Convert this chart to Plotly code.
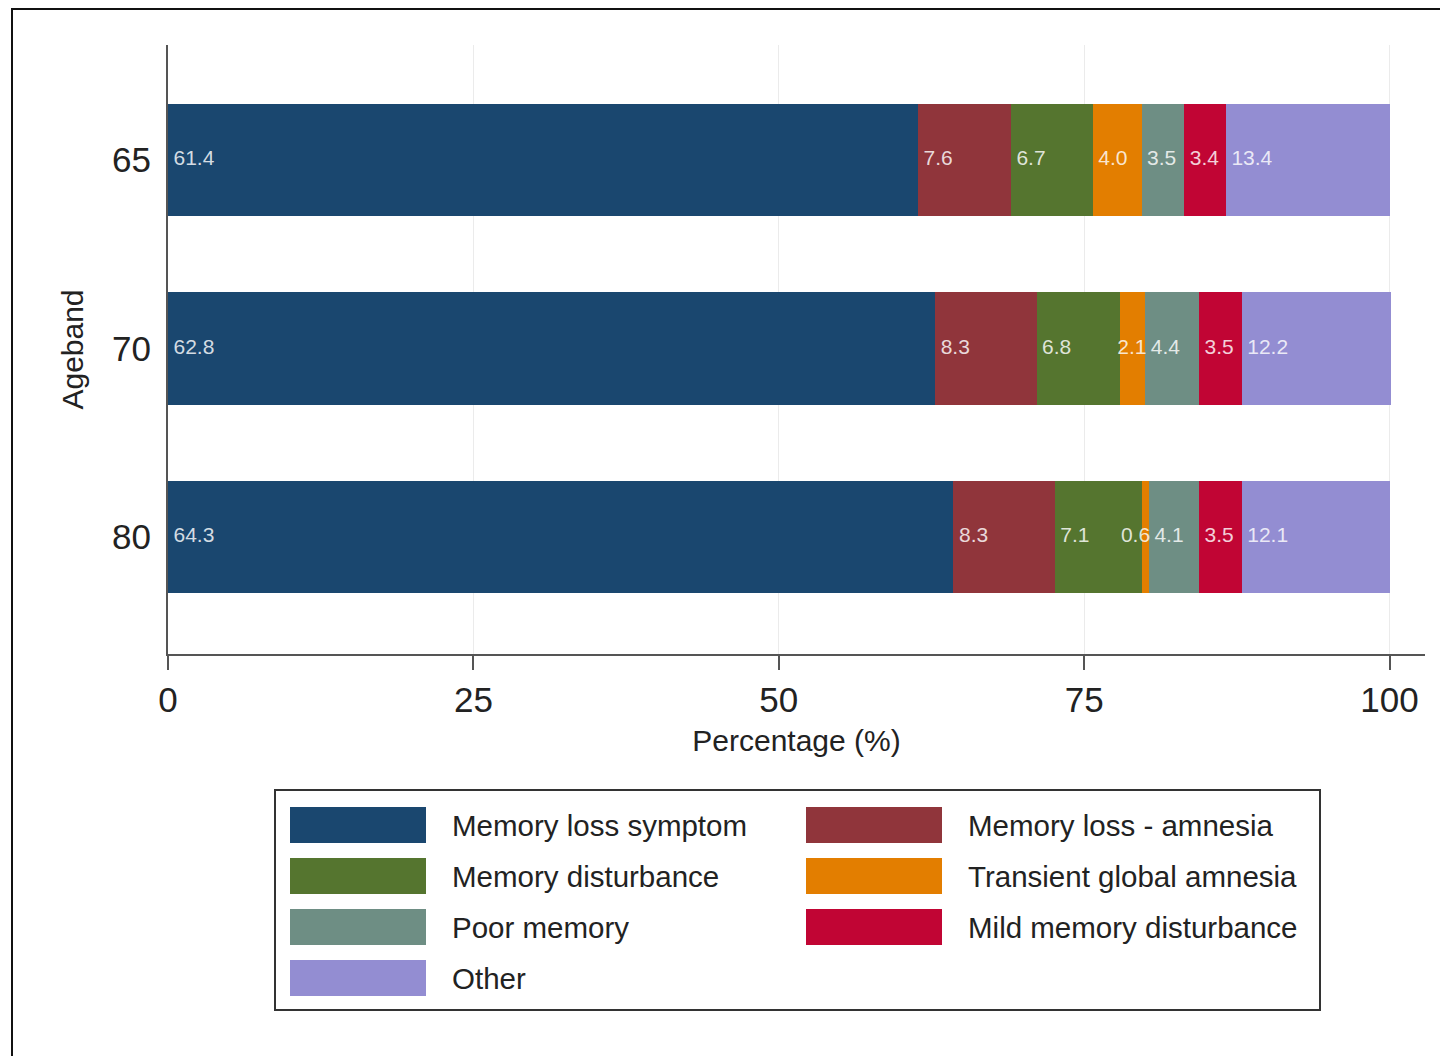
import plotly.graph_objects as go

# ---- data ----
agebands = ["65", "70", "80"]
series_names = [
    "Memory loss symptom",
    "Memory loss - amnesia",
    "Memory disturbance",
    "Transient global amnesia",
    "Poor memory",
    "Mild memory disturbance",
    "Other",
]
memory_loss_symptom = [61.4, 62.8, 64.3]
memory_loss_amnesia = [7.6, 8.3, 8.3]
memory_disturbance = [6.7, 6.8, 7.1]
transient_global_amnesia = [4.0, 2.1, 0.6]
poor_memory = [3.5, 4.4, 4.1]
mild_memory_disturbance = [3.4, 3.5, 3.5]
other = [13.4, 12.2, 12.1]
series_values = [
    memory_loss_symptom,
    memory_loss_amnesia,
    memory_disturbance,
    transient_global_amnesia,
    poor_memory,
    mild_memory_disturbance,
    other,
]
colors = ["#1a476f", "#90353b", "#55752f", "#e37e00", "#6e8e84", "#c10534", "#938dd2"]
x_ticks = [0, 25, 50, 75, 100]

FONT = "Arial, Liberation Sans, Helvetica, sans-serif"

# ---- geometry (page pixels; page has an 8px body margin) ----
OFF = 8
PAGE_W, PAGE_H = 1448, 1056
FW, FH = PAGE_W - OFF, PAGE_H - OFF
L, R, T, B = 168, 1425, 45, 654
PW, PH = R - L, B - T


def px(x):
    return (x - L) / PW


def py(y):
    return (B - y) / PH


fig = go.Figure()

cum = [0.0] * len(agebands)
lx, ly, lt = [], [], []      # labels at segment start
rx, ry, rt = [], [], []      # labels right-aligned at segment end (narrow segments)
for name, vals, col in zip(series_names, series_values, colors):
    fig.add_trace(go.Bar(
        y=agebands, x=vals, name=name, orientation="h",
        marker=dict(color=col, line=dict(width=0)),
        showlegend=False, hoverinfo="x+name",
    ))
    for i, v in enumerate(vals):
        if v < 2.5:
            rx.append(cum[i] + v + 0.1)
            ry.append(agebands[i])
            rt.append(f"{v:.1f}")
        else:
            lx.append(cum[i] + 0.45)
            ly.append(agebands[i])
            lt.append(f"{v:.1f}")
        cum[i] += v

lab_font = dict(family=FONT, size=21, color="rgba(255,255,255,0.82)")
fig.add_trace(go.Scatter(
    x=lx, y=ly, text=lt, mode="text", textposition="middle right",
    textfont=lab_font, showlegend=False, hoverinfo="skip",
))
fig.add_trace(go.Scatter(
    x=rx, y=ry, text=rt, mode="text", textposition="middle left",
    textfont=lab_font, showlegend=False, hoverinfo="skip",
))

# ---- manual legend (wide swatches like the Stata original) ----
shapes = []
annotations = []
shapes.append(dict(type="rect", xref="paper", yref="paper",
                   x0=px(275), x1=px(1320), y0=py(790), y1=py(1010),
                   line=dict(color="#333333", width=2), fillcolor="rgba(0,0,0,0)"))
col_sw_x = [290, 806]
col_tx_x = [450, 966]
row_y = [825, 876, 927, 978]
for k, (name, col) in enumerate(zip(series_names, colors)):
    r, c = divmod(k, 2)
    yc = row_y[r]
    shapes.append(dict(type="rect", xref="paper", yref="paper",
                       x0=px(col_sw_x[c]), x1=px(col_sw_x[c] + 136),
                       y0=py(yc + 18), y1=py(yc - 18),
                       line=dict(width=0), fillcolor=col))
    annotations.append(dict(xref="paper", yref="paper", x=px(col_tx_x[c]), y=py(yc),
                            xanchor="left", yanchor="middle", showarrow=False,
                            text=name, font=dict(family=FONT, size=29.5, color="#222222")))

# outer border
shapes.append(dict(type="rect", xref="paper", yref="paper",
                   x0=px(12), x1=px(PAGE_W + 30), y0=py(OFF + 1), y1=py(PAGE_H + 30),
                   line=dict(color="#111111", width=2), fillcolor="rgba(0,0,0,0)", layer="below"))

fig.update_layout(
    width=FW, height=FH,
    margin=dict(l=L - OFF, r=PAGE_W - R, t=T - OFF, b=PAGE_H - B, pad=0),
    paper_bgcolor="white", plot_bgcolor="white",
    barmode="stack", bargap=0.405,
    font=dict(family=FONT, color="#222222"),
    shapes=shapes, annotations=annotations,
    xaxis=dict(
        range=[0, 102.9], tickvals=x_ticks, ticktext=[str(t) for t in x_ticks],
        showgrid=True, gridcolor="#ebebeb", gridwidth=1,
        showline=True, linecolor="#555555", linewidth=2,
        ticks="outside", ticklen=14, tickwidth=2, tickcolor="#555555",
        tickfont=dict(family=FONT, size=35, color="#222222"),
        zeroline=False,
        title=dict(text="Percentage (%)", font=dict(family=FONT, size=30, color="#222222"), standoff=12),
    ),
    yaxis=dict(
        type="category", categoryorder="array", categoryarray=agebands,
        range=[2.62, -0.61],
        showgrid=False, showline=True, linecolor="#555555", linewidth=2,
        ticks="outside", ticklen=8, tickcolor="rgba(0,0,0,0)",
        tickfont=dict(family=FONT, size=35, color="#222222"),
        zeroline=False,
        title=dict(text="Ageband", font=dict(family=FONT, size=30, color="#222222"), standoff=20),
    ),
)

fig.write_html("out.html")
